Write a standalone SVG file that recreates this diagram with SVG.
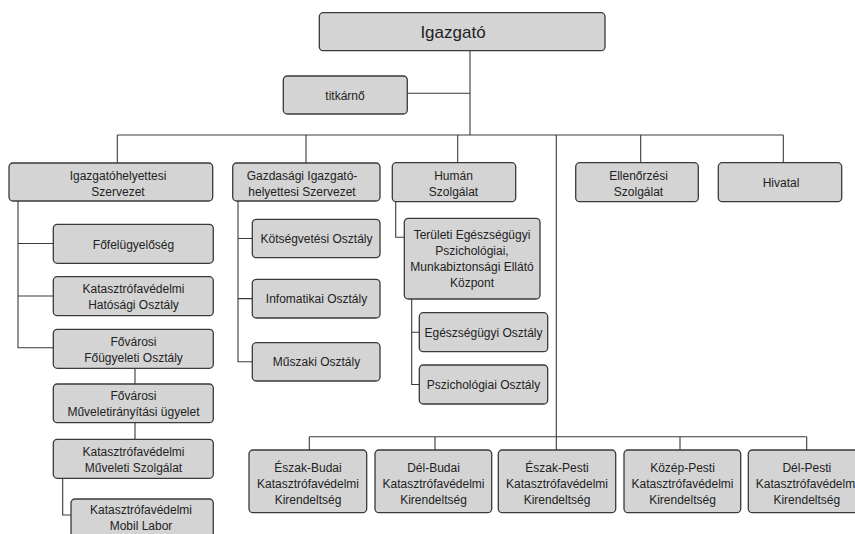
<svg xmlns="http://www.w3.org/2000/svg" width="855" height="534" viewBox="0 0 855 534">
<style>
.b{fill:#d4d4d4;stroke:#3a3a3a;stroke-width:1.3}
.t{font-family:"Liberation Sans",Arial,sans-serif;font-size:12px;fill:#222;text-anchor:middle}
.big{font-size:17px}
.c{fill:none;stroke:#3a3a3a;stroke-width:1.1}
</style>
<rect width="855" height="534" fill="#fff"/>
<g id="connectors" class="c">
<path d="M470 50.7V135M407.3 93.3H470"/>
<path d="M117.3 135H783.3M117.3 135V163M306 135V163M457.7 135V162.7M640.7 135V162.7M783.3 135V162.7"/>
<path d="M556.3 135V450"/>
<path d="M309.3 436.7H806.7M309.3 436.7V450M435 436.7V450M680 436.7V450M806.7 436.7V450"/>
<path d="M18 201V347.7H53.3M18 243.5H53.3M18 296H53.3"/>
<path d="M135 368.3V384M135 422.7V439.3"/>
<path d="M62.7 478.3V515H71"/>
<path d="M238 201V361.8H252.3M238 238.5H252.3M238 298.6H252.3"/>
<path d="M395.7 201.7V237.3H404.3"/>
<path d="M411.7 299V384.5H419.3M411.7 332.2H419.3"/>
</g>
<g id="n-igazgato"><rect class="b" x="319.3" y="12.7" width="285.7" height="38" rx="4"/><text class="t big" x="453" y="37.5">Igazgató</text></g>
<g id="n-titkarno"><rect class="b" x="283.3" y="76" width="124" height="38" rx="4"/><text class="t" x="345" y="99.5">titkárnő</text></g>
<g id="n-igh"><rect class="b" x="9" y="163" width="203.7" height="38" rx="4"/><text class="t" x="118" y="179.5">Igazgatóhelyettesi</text><text class="t" x="118" y="195.5">Szervezet</text></g>
<g id="n-gigh"><rect class="b" x="232.7" y="163" width="147.3" height="38" rx="4"/><text class="t" x="302" y="179.5">Gazdasági Igazgató-</text><text class="t" x="302" y="195.5">helyettesi Szervezet</text></g>
<g id="n-human"><rect class="b" x="392.3" y="162.7" width="123.4" height="39" rx="4"/><text class="t" x="453.5" y="179.5">Humán</text><text class="t" x="453.5" y="195.5">Szolgálat</text></g>
<g id="n-ellenorzesi"><rect class="b" x="575.7" y="162.7" width="122.6" height="39" rx="4"/><text class="t" x="638.5" y="179.5">Ellenőrzési</text><text class="t" x="638.5" y="195.5">Szolgálat</text></g>
<g id="n-hivatal"><rect class="b" x="718.3" y="162.7" width="123.4" height="39" rx="4"/><text class="t" x="781" y="186.7">Hivatal</text></g>
<g id="n-fofelugyeloseg"><rect class="b" x="53.3" y="224.3" width="160" height="39" rx="4"/><text class="t" x="133.5" y="248.5">Főfelügyelőség</text></g>
<g id="n-hatosagi"><rect class="b" x="53.3" y="276.7" width="160" height="39" rx="4"/><text class="t" x="133.5" y="293">Katasztrófavédelmi</text><text class="t" x="133.5" y="309">Hatósági Osztály</text></g>
<g id="n-fougyeleti"><rect class="b" x="53.3" y="329.3" width="160" height="39" rx="4"/><text class="t" x="133.5" y="345.5">Fővárosi</text><text class="t" x="133.5" y="361.5">Főügyeleti Osztály</text></g>
<g id="n-muveletiranyitasi"><rect class="b" x="53.3" y="384" width="160" height="38.7" rx="4"/><text class="t" x="133.5" y="400">Fővárosi</text><text class="t" x="133.5" y="416">Műveletirányítási ügyelet</text></g>
<g id="n-muveleti"><rect class="b" x="53.3" y="439.3" width="160" height="39" rx="4"/><text class="t" x="133.5" y="455.5">Katasztrófavédelmi</text><text class="t" x="133.5" y="471.5">Műveleti Szolgálat</text></g>
<g id="n-mobil"><rect class="b" x="71" y="499" width="142.3" height="39" rx="4"/><text class="t" x="141" y="514">Katasztrófavédelmi</text><text class="t" x="141" y="530">Mobil Labor</text></g>
<g id="n-koltsegvetesi"><rect class="b" x="252.3" y="219.3" width="127.7" height="38.4" rx="4"/><text class="t" x="316.5" y="243">Kötségvetési Osztály</text></g>
<g id="n-infomatikai"><rect class="b" x="252.3" y="279.3" width="127.7" height="38.7" rx="4"/><text class="t" x="316.5" y="303">Infomatikai Osztály</text></g>
<g id="n-muszaki"><rect class="b" x="252.3" y="342.7" width="127.7" height="38.3" rx="4"/><text class="t" x="316.5" y="366.3">Műszaki Osztály</text></g>
<g id="n-teruleti"><rect class="b" x="404.3" y="218.3" width="135.7" height="80.7" rx="4"/><text class="t" x="472" y="238.5">Területi Egészségügyi</text><text class="t" x="472" y="254.5">Pszichológiai,</text><text class="t" x="472" y="270.5">Munkabiztonsági Ellátó</text><text class="t" x="472" y="286.5">Központ</text></g>
<g id="n-egeszsegugyi"><rect class="b" x="419.3" y="312.7" width="128.4" height="39" rx="4"/><text class="t" x="483.5" y="336.7">Egészségügyi Osztály</text></g>
<g id="n-pszichologiai"><rect class="b" x="419.3" y="365" width="128.4" height="39" rx="4"/><text class="t" x="483.5" y="389">Pszichológiai Osztály</text></g>
<g id="n-eszakbudai"><rect class="b" x="249" y="450" width="117.7" height="62.7" rx="4"/><text class="t" x="308" y="471.5">Észak-Budai</text><text class="t" x="308" y="487.5">Katasztrófavédelmi</text><text class="t" x="308" y="503.5">Kirendeltség</text></g>
<g id="n-delbudai"><rect class="b" x="375" y="450" width="116.7" height="62.7" rx="4"/><text class="t" x="433.5" y="471.5">Dél-Budai</text><text class="t" x="433.5" y="487.5">Katasztrófavédelmi</text><text class="t" x="433.5" y="503.5">Kirendeltség</text></g>
<g id="n-eszakpesti"><rect class="b" x="498.3" y="450" width="117.4" height="62.7" rx="4"/><text class="t" x="557" y="471.5">Észak-Pesti</text><text class="t" x="557" y="487.5">Katasztrófavédelmi</text><text class="t" x="557" y="503.5">Kirendeltség</text></g>
<g id="n-kozeppesti"><rect class="b" x="624" y="450" width="116.7" height="62.7" rx="4"/><text class="t" x="682.5" y="471.5">Közép-Pesti</text><text class="t" x="682.5" y="487.5">Katasztrófavédelmi</text><text class="t" x="682.5" y="503.5">Kirendeltség</text></g>
<g id="n-delpesti"><rect class="b" x="748.3" y="450" width="117" height="62.7" rx="4"/><text class="t" x="806.8" y="471.5">Dél-Pesti</text><text class="t" x="806.8" y="487.5">Katasztrófavédelmi</text><text class="t" x="806.8" y="503.5">Kirendeltség</text></g>
</svg>
